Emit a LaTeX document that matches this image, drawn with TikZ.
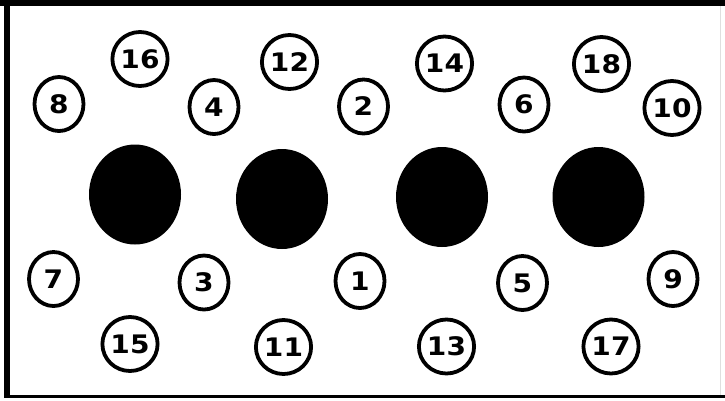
\documentclass[tikz,border=0pt]{standalone}
\usepackage{fontspec}
\setmainfont{DejaVu Sans}
\newfontfamily\pinfont[FakeStretch=1.1]{DejaVu Sans}
\usetikzlibrary{shapes.geometric}
\begin{document}
\begin{tikzpicture}[x=1pt,y=-1pt,
  pinhole/.style={shape=ellipse,draw=black,line width=3.8pt,minimum width=49pt,minimum height=54pt,inner sep=0pt,font=\pinfont\bfseries\fontsize{25.5}{25.5}\selectfont},
  bigdot/.style={shape=ellipse,fill=black,minimum width=92pt,minimum height=100pt,inner sep=0pt},
  frameline/.style={draw=black}]
\useasboundingbox (0,0) rectangle (725,400);
\fill[white] (0,0) rectangle (725,400);
% frame
\coordinate (tl) at (0,3);
\coordinate (tr) at (725,3);
\coordinate (lt) at (7,0);
\coordinate (lb) at (7,398);
\coordinate (bl) at (4,396.5);
\coordinate (br) at (725,396.5);
\coordinate (rt) at (720,6);
\coordinate (rb) at (720,395);
\draw[frameline,line width=6pt] (tl) -- (tr);
\draw[frameline,line width=6pt] (lt) -- (lb);
\draw[frameline,line width=3.5pt] (bl) -- (br);
\draw[gray!25,line width=1pt] (rt) -- (rb);
% big dots
\node[bigdot] (d1) at (135,194.5) {};
\node[bigdot] (d2) at (282,199) {};
\node[bigdot] (d3) at (442,197) {};
\node[bigdot] (d4) at (598.5,197) {};
% top pins
\node[pinhole] (p8)  at (59,104) {8};
\node[pinhole] (p16) at (140,59) {16};
\node[pinhole] (p4)  at (214,107) {4};
\node[pinhole] (p12) at (289.5,62) {12};
\node[pinhole] (p2)  at (363.5,106.5) {2};
\node[pinhole] (p14) at (444.5,63.5) {14};
\node[pinhole] (p6)  at (524,104.5) {6};
\node[pinhole] (p18) at (601.5,64) {18};
\node[pinhole] (p10) at (672,108) {10};
% bottom pins
\node[pinhole] (p7)  at (53.5,279) {7};
\node[pinhole] (p3)  at (204,282.5) {3};
\node[pinhole] (p1)  at (360,281) {1};
\node[pinhole] (p5)  at (522.5,283) {5};
\node[pinhole] (p9)  at (673,279) {9};
\node[pinhole] (p15) at (130,344) {15};
\node[pinhole] (p11) at (283.5,347) {11};
\node[pinhole] (p13) at (446.5,346.5) {13};
\node[pinhole] (p17) at (611,346.5) {17};
\end{tikzpicture}
\end{document}
